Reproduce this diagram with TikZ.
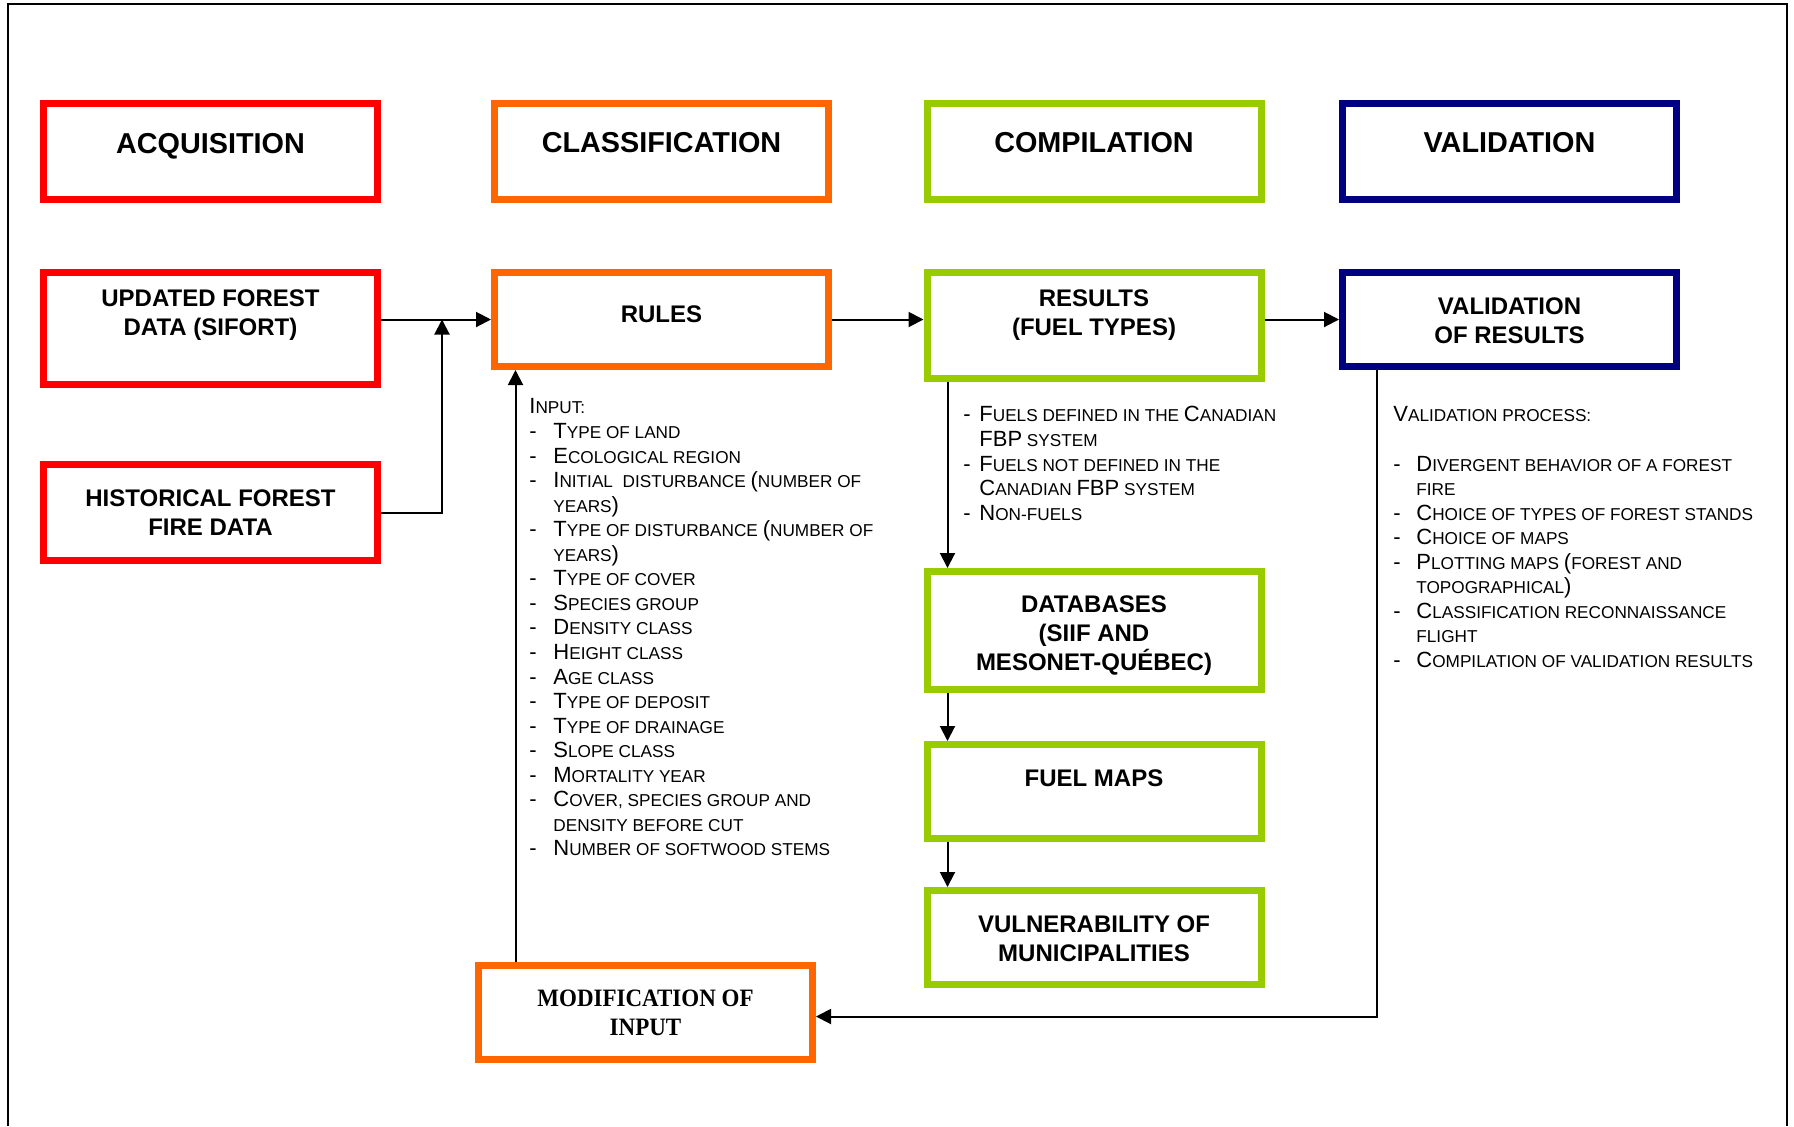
\documentclass[tikz,border=0pt]{standalone}
\usepackage{fontspec}
\setmainfont{Liberation Sans}
\newfontfamily\modfont{Liberation Serif}[FakeStretch=0.92]
\usetikzlibrary{arrows.meta}
\definecolor{acqred}{HTML}{FF0000}
\definecolor{clsorange}{HTML}{FF6600}
\definecolor{cmpgreen}{HTML}{99CC00}
\definecolor{valnavy}{HTML}{000080}
\newcommand{\ucap}[1]{{\fontsize{11}{12.28}\selectfont #1}}

\begin{document}
\begin{tikzpicture}[x=0.5pt,y=-0.5pt,
	stagebox/.style={draw=#1,line width=3.5pt,minimum width=167pt,inner sep=0pt},
	hdr/.style={font=\bfseries\fontsize{14.4}{17}\selectfont},
	lbl/.style={font=\bfseries\fontsize{12}{14.5}\selectfont,align=center},
	lst/.style={anchor=north west,inner sep=0pt,font=\fontsize{8.6}{12.28}\selectfont},
	flow/.style={line width=1pt,-{Triangle[length=7.5pt,width=7.5pt]}}]
			\useasboundingbox (0,0) rectangle (1794,1126);
			\draw[line width=1pt] (8,1126) -- (8,4) -- (1787,4) -- (1787,1126);
			
			\node[stagebox=acqred,minimum height=48pt] (acq) at (210.5,151.5) {};
			\node[hdr] (acqt) at (210.5,146.5) {ACQUISITION};
			\node[stagebox=clsorange,minimum height=48pt] (cls) at (661.5,151.5) {};
			\node[hdr] (clst) at (661.5,143) {CLASSIFICATION};
			\node[stagebox=cmpgreen,minimum height=48pt] (cmp) at (1094,151.5) {};
			\node[hdr] (cmpt) at (1094,143) {COMPILATION};
			\node[stagebox=valnavy,minimum height=48pt] (val) at (1509.5,151.5) {};
			\node[hdr] (valt) at (1509.5,143) {VALIDATION};
			
			\node[stagebox=acqred,minimum height=56pt] (upd) at (210.5,328.5) {};
			\node[lbl] (updt) at (210.5,315) {UPDATED FOREST\\DATA (SIFORT)};
			\node[stagebox=acqred,minimum height=48pt] (hist) at (210.5,512.5) {};
			\node[lbl] (histt) at (210.5,512.5) {HISTORICAL FOREST\\FIRE DATA};
			
			\node[stagebox=clsorange,minimum height=47pt] (rules) at (661.5,319.5) {};
			\node[lbl] (rulest) at (661.5,314) {RULES};
			\node[stagebox=clsorange,minimum height=47pt] (mod) at (645.5,1012.5) {};
			\node[font=\modfont\bfseries\fontsize{12.5}{14.5}\selectfont,align=center] (modt) at (645.5,1012.5) {MODIFICATION OF\\INPUT};
			
			\node[stagebox=cmpgreen,minimum height=53pt] (res) at (1094,325.5) {};
			\node[lbl] (rest) at (1094,315) {RESULTS\\(FUEL TYPES)};
			\node[stagebox=cmpgreen,minimum height=59pt] (db) at (1094,630.5) {};
			\node[lbl] (dbt) at (1094,636) {DATABASES\\(SIIF AND\\MESONET-QUÉBEC)};
			\node[stagebox=cmpgreen,minimum height=47pt] (maps) at (1094,791.5) {};
			\node[lbl] (mapst) at (1094,778) {FUEL MAPS};
			\node[stagebox=cmpgreen,minimum height=47pt] (vul) at (1094,937.5) {};
			\node[lbl] (vult) at (1094,939) {VULNERABILITY OF\\MUNICIPALITIES};
			
			\node[stagebox=valnavy,minimum height=47pt] (vres) at (1509.5,319.5) {};
			\node[lbl] (vrest) at (1509.5,321) {VALIDATION\\OF RESULTS};
			
			\node[lst] (inputs) at (529,396.3) {\begin{tabular}{@{}p{12pt}@{}l@{}}
				\multicolumn{2}{@{}l@{}}{\ucap{I}NPUT:}\\
				\ucap{-} & \ucap{T}YPE OF LAND\\
				\ucap{-} & \ucap{E}COLOGICAL REGION\\
				\ucap{-} & \ucap{I}NITIAL\ \ DISTURBANCE \ucap{(}NUMBER OF\\
				 & YEARS\ucap{)}\\
				\ucap{-} & \ucap{T}YPE OF DISTURBANCE \ucap{(}NUMBER OF\\
				 & YEARS\ucap{)}\\
				\ucap{-} & \ucap{T}YPE OF COVER\\
				\ucap{-} & \ucap{S}PECIES GROUP\\
				\ucap{-} & \ucap{D}ENSITY CLASS\\
				\ucap{-} & \ucap{H}EIGHT CLASS\\
				\ucap{-} & \ucap{A}GE CLASS\\
				\ucap{-} & \ucap{T}YPE OF DEPOSIT\\
				\ucap{-} & \ucap{T}YPE OF DRAINAGE\\
				\ucap{-} & \ucap{S}LOPE CLASS\\
				\ucap{-} & \ucap{M}ORTALITY YEAR\\
				\ucap{-} & \ucap{C}OVER, SPECIES GROUP AND\\
				 & DENSITY BEFORE CUT\\
				\ucap{-} & \ucap{N}UMBER OF SOFTWOOD STEMS
			\end{tabular}};
			
			\node[lst] (fuels) at (963,404.3) {\begin{tabular}{@{}p{8pt}@{}l@{}}
				\ucap{-} & \ucap{F}UELS DEFINED IN THE \ucap{C}ANADIAN\\
				 & \ucap{FBP} SYSTEM\\
				\ucap{-} & \ucap{F}UELS NOT DEFINED IN THE\\
				 & \ucap{C}ANADIAN \ucap{FBP} SYSTEM\\
				\ucap{-} & \ucap{N}ON-FUELS
			\end{tabular}};
			
			\node[lst] (checks) at (1393,404.3) {\begin{tabular}{@{}p{11.5pt}@{}l@{}}
				\multicolumn{2}{@{}l@{}}{\ucap{V}ALIDATION PROCESS:}\\
				 & \\
				\ucap{-} & \ucap{D}IVERGENT BEHAVIOR OF A FOREST\\
				 & FIRE\\
				\ucap{-} & \ucap{C}HOICE OF TYPES OF FOREST STANDS\\
				\ucap{-} & \ucap{C}HOICE OF MAPS\\
				\ucap{-} & \ucap{P}LOTTING MAPS \ucap{(}FOREST AND\\
				 & TOPOGRAPHICAL\ucap{)}\\
				\ucap{-} & \ucap{C}LASSIFICATION RECONNAISSANCE\\
				 & FLIGHT\\
				\ucap{-} & \ucap{C}OMPILATION OF VALIDATION RESULTS
			\end{tabular}};
			
			\coordinate (meet) at (442,319.5);
			\draw[flow] (upd.east |- rules.west) -- (rules.west);
			\draw[flow] (hist.east) -| (meet);
			\draw[flow] (rules.east) -- (rules.east -| res.west);
			\draw[flow] (res.east |- vres.west) -- (vres.west);
			\draw[flow] ([xshift=20.25pt]mod.north west) -- ([xshift=20.25pt]mod.north west |- rules.south);
			\draw[flow] ([xshift=12pt]res.south west) -- ([xshift=12pt]res.south west |- db.north);
			\draw[flow] ([xshift=12pt]db.south west) -- ([xshift=12pt]db.south west |- maps.north);
			\draw[flow] ([xshift=12pt]maps.south west) -- ([xshift=12pt]maps.south west |- vul.north);
			\draw[flow] ([xshift=19pt]vres.south west) |- ([yshift=-2pt]mod.east);
\end{tikzpicture}
\end{document}
